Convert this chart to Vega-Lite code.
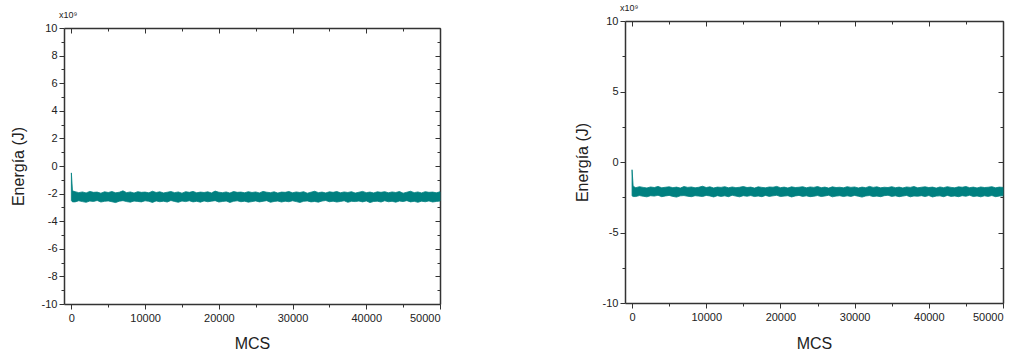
{
"$schema": "https://vega.github.io/schema/vega-lite/v6.json",
"padding": {"left": 10, "top": 4, "right": 0, "bottom": 0},
"config": {"view": {"stroke": null}, "font": "Liberation Sans",
 "axis": {"grid": false, "domainColor": "#333", "domainWidth": 1.5, "tickColor": "#333", "labelFont": "Liberation Sans", "labelFontSize": 11, "labelColor": "#222", "titleFont": "Liberation Sans", "titleFontSize": 16, "titleFontWeight": "normal", "titleColor": "#222"}},
"spacing": 131,
"datasets": {
"left": [
{"mcs":0,"hi":-0.5,"lo":-2.5},{"mcs":150,"hi":-1.8,"lo":-2.6},
{"mcs":500,"hi":-1.86,"lo":-2.60},{"mcs":1000,"hi":-1.93,"lo":-2.52},{"mcs":1500,"hi":-1.88,"lo":-2.58},{"mcs":2000,"hi":-1.95,"lo":-2.63},{"mcs":2500,"hi":-1.84,"lo":-2.54},{"mcs":3000,"hi":-1.91,"lo":-2.57},{"mcs":3500,"hi":-1.89,"lo":-2.50},{"mcs":4000,"hi":-1.97,"lo":-2.61},{"mcs":4500,"hi":-1.87,"lo":-2.56},{"mcs":5000,"hi":-1.92,"lo":-2.53},
{"mcs":5500,"hi":-1.85,"lo":-2.59},{"mcs":6000,"hi":-1.94,"lo":-2.65},{"mcs":6500,"hi":-1.90,"lo":-2.55},{"mcs":7000,"hi":-1.80,"lo":-2.51},{"mcs":7500,"hi":-1.93,"lo":-2.58},{"mcs":8000,"hi":-1.88,"lo":-2.62},{"mcs":8500,"hi":-1.96,"lo":-2.54},{"mcs":9000,"hi":-1.86,"lo":-2.57},{"mcs":9500,"hi":-1.91,"lo":-2.60},{"mcs":10000,"hi":-1.89,"lo":-2.52},
{"mcs":10500,"hi":-1.94,"lo":-2.56},{"mcs":11000,"hi":-1.83,"lo":-2.64},{"mcs":11500,"hi":-1.92,"lo":-2.53},{"mcs":12000,"hi":-1.87,"lo":-2.59},{"mcs":12500,"hi":-1.95,"lo":-2.55},{"mcs":13000,"hi":-1.90,"lo":-2.61},{"mcs":13500,"hi":-1.85,"lo":-2.50},{"mcs":14000,"hi":-1.93,"lo":-2.57},{"mcs":14500,"hi":-1.88,"lo":-2.63},{"mcs":15000,"hi":-1.97,"lo":-2.54},
{"mcs":15500,"hi":-1.86,"lo":-2.58},{"mcs":16000,"hi":-1.91,"lo":-2.52},{"mcs":16500,"hi":-1.84,"lo":-2.60},{"mcs":17000,"hi":-1.94,"lo":-2.56},{"mcs":17500,"hi":-1.89,"lo":-2.62},{"mcs":18000,"hi":-1.92,"lo":-2.53},{"mcs":18500,"hi":-1.87,"lo":-2.59},{"mcs":19000,"hi":-1.95,"lo":-2.55},{"mcs":19500,"hi":-1.82,"lo":-2.51},{"mcs":20000,"hi":-1.90,"lo":-2.61},
{"mcs":20500,"hi":-1.93,"lo":-2.57},{"mcs":21000,"hi":-1.88,"lo":-2.54},{"mcs":21500,"hi":-1.96,"lo":-2.64},{"mcs":22000,"hi":-1.85,"lo":-2.56},{"mcs":22500,"hi":-1.91,"lo":-2.52},{"mcs":23000,"hi":-1.89,"lo":-2.59},{"mcs":23500,"hi":-1.94,"lo":-2.55},{"mcs":24000,"hi":-1.86,"lo":-2.62},{"mcs":24500,"hi":-1.92,"lo":-2.58},{"mcs":25000,"hi":-1.88,"lo":-2.53},
{"mcs":25500,"hi":-1.95,"lo":-2.60},{"mcs":26000,"hi":-1.84,"lo":-2.56},{"mcs":26500,"hi":-1.90,"lo":-2.51},{"mcs":27000,"hi":-1.93,"lo":-2.63},{"mcs":27500,"hi":-1.87,"lo":-2.57},{"mcs":28000,"hi":-1.96,"lo":-2.54},{"mcs":28500,"hi":-1.89,"lo":-2.61},{"mcs":29000,"hi":-1.91,"lo":-2.55},{"mcs":29500,"hi":-1.85,"lo":-2.59},{"mcs":30000,"hi":-1.94,"lo":-2.52},
{"mcs":30500,"hi":-1.88,"lo":-2.58},{"mcs":31000,"hi":-1.92,"lo":-2.64},{"mcs":31500,"hi":-1.86,"lo":-2.56},{"mcs":32000,"hi":-1.97,"lo":-2.53},{"mcs":32500,"hi":-1.90,"lo":-2.60},{"mcs":33000,"hi":-1.83,"lo":-2.57},{"mcs":33500,"hi":-1.93,"lo":-2.62},{"mcs":34000,"hi":-1.89,"lo":-2.54},{"mcs":34500,"hi":-1.95,"lo":-2.50},{"mcs":35000,"hi":-1.87,"lo":-2.59},
{"mcs":35500,"hi":-1.91,"lo":-2.55},{"mcs":36000,"hi":-1.85,"lo":-2.61},{"mcs":36500,"hi":-1.94,"lo":-2.57},{"mcs":37000,"hi":-1.88,"lo":-2.52},{"mcs":37500,"hi":-1.92,"lo":-2.63},{"mcs":38000,"hi":-1.86,"lo":-2.56},{"mcs":38500,"hi":-1.96,"lo":-2.58},{"mcs":39000,"hi":-1.90,"lo":-2.54},{"mcs":39500,"hi":-1.84,"lo":-2.60},{"mcs":40000,"hi":-1.93,"lo":-2.53},
{"mcs":40500,"hi":-1.89,"lo":-2.65},{"mcs":41000,"hi":-1.95,"lo":-2.57},{"mcs":41500,"hi":-1.87,"lo":-2.55},{"mcs":42000,"hi":-1.91,"lo":-2.61},{"mcs":42500,"hi":-1.86,"lo":-2.52},{"mcs":43000,"hi":-1.94,"lo":-2.59},{"mcs":43500,"hi":-1.88,"lo":-2.56},{"mcs":44000,"hi":-1.92,"lo":-2.62},{"mcs":44500,"hi":-1.85,"lo":-2.54},{"mcs":45000,"hi":-1.97,"lo":-2.58},
{"mcs":45500,"hi":-1.90,"lo":-2.51},{"mcs":46000,"hi":-1.83,"lo":-2.60},{"mcs":46500,"hi":-1.93,"lo":-2.56},{"mcs":47000,"hi":-1.88,"lo":-2.63},{"mcs":47500,"hi":-1.95,"lo":-2.55},{"mcs":48000,"hi":-1.86,"lo":-2.59},{"mcs":48500,"hi":-1.91,"lo":-2.53},{"mcs":49000,"hi":-1.89,"lo":-2.61},{"mcs":49500,"hi":-1.94,"lo":-2.57},{"mcs":50000,"hi":-1.87,"lo":-2.54}
],
"right": [
{"mcs":0,"hi":-0.55,"lo":-2.4},{"mcs":150,"hi":-1.72,"lo":-2.45},
{"mcs":500,"hi":-1.82,"lo":-2.45},{"mcs":1000,"hi":-1.75,"lo":-2.38},{"mcs":1500,"hi":-1.80,"lo":-2.43},{"mcs":2000,"hi":-1.84,"lo":-2.47},{"mcs":2500,"hi":-1.77,"lo":-2.39},{"mcs":3000,"hi":-1.81,"lo":-2.42},{"mcs":3500,"hi":-1.73,"lo":-2.36},{"mcs":4000,"hi":-1.83,"lo":-2.46},{"mcs":4500,"hi":-1.79,"lo":-2.41},{"mcs":5000,"hi":-1.76,"lo":-2.37},
{"mcs":5500,"hi":-1.82,"lo":-2.44},{"mcs":6000,"hi":-1.78,"lo":-2.49},{"mcs":6500,"hi":-1.85,"lo":-2.40},{"mcs":7000,"hi":-1.74,"lo":-2.38},{"mcs":7500,"hi":-1.80,"lo":-2.43},{"mcs":8000,"hi":-1.77,"lo":-2.46},{"mcs":8500,"hi":-1.83,"lo":-2.39},{"mcs":9000,"hi":-1.79,"lo":-2.42},{"mcs":9500,"hi":-1.72,"lo":-2.45},{"mcs":10000,"hi":-1.81,"lo":-2.37},
{"mcs":10500,"hi":-1.76,"lo":-2.41},{"mcs":11000,"hi":-1.84,"lo":-2.48},{"mcs":11500,"hi":-1.78,"lo":-2.39},{"mcs":12000,"hi":-1.80,"lo":-2.44},{"mcs":12500,"hi":-1.75,"lo":-2.40},{"mcs":13000,"hi":-1.83,"lo":-2.46},{"mcs":13500,"hi":-1.77,"lo":-2.36},{"mcs":14000,"hi":-1.82,"lo":-2.42},{"mcs":14500,"hi":-1.79,"lo":-2.47},{"mcs":15000,"hi":-1.74,"lo":-2.39},
{"mcs":15500,"hi":-1.81,"lo":-2.43},{"mcs":16000,"hi":-1.78,"lo":-2.38},{"mcs":16500,"hi":-1.85,"lo":-2.45},{"mcs":17000,"hi":-1.76,"lo":-2.41},{"mcs":17500,"hi":-1.80,"lo":-2.46},{"mcs":18000,"hi":-1.83,"lo":-2.37},{"mcs":18500,"hi":-1.77,"lo":-2.44},{"mcs":19000,"hi":-1.79,"lo":-2.40},{"mcs":19500,"hi":-1.73,"lo":-2.36},{"mcs":20000,"hi":-1.82,"lo":-2.45},
{"mcs":20500,"hi":-1.78,"lo":-2.42},{"mcs":21000,"hi":-1.84,"lo":-2.39},{"mcs":21500,"hi":-1.76,"lo":-2.48},{"mcs":22000,"hi":-1.81,"lo":-2.41},{"mcs":22500,"hi":-1.79,"lo":-2.37},{"mcs":23000,"hi":-1.75,"lo":-2.44},{"mcs":23500,"hi":-1.83,"lo":-2.40},{"mcs":24000,"hi":-1.77,"lo":-2.46},{"mcs":24500,"hi":-1.80,"lo":-2.43},{"mcs":25000,"hi":-1.74,"lo":-2.38},
{"mcs":25500,"hi":-1.82,"lo":-2.45},{"mcs":26000,"hi":-1.78,"lo":-2.41},{"mcs":26500,"hi":-1.85,"lo":-2.36},{"mcs":27000,"hi":-1.76,"lo":-2.47},{"mcs":27500,"hi":-1.81,"lo":-2.42},{"mcs":28000,"hi":-1.79,"lo":-2.39},{"mcs":28500,"hi":-1.83,"lo":-2.45},{"mcs":29000,"hi":-1.75,"lo":-2.40},{"mcs":29500,"hi":-1.80,"lo":-2.44},{"mcs":30000,"hi":-1.77,"lo":-2.37},
{"mcs":30500,"hi":-1.84,"lo":-2.43},{"mcs":31000,"hi":-1.78,"lo":-2.49},{"mcs":31500,"hi":-1.82,"lo":-2.41},{"mcs":32000,"hi":-1.73,"lo":-2.38},{"mcs":32500,"hi":-1.80,"lo":-2.45},{"mcs":33000,"hi":-1.76,"lo":-2.42},{"mcs":33500,"hi":-1.83,"lo":-2.46},{"mcs":34000,"hi":-1.79,"lo":-2.39},{"mcs":34500,"hi":-1.81,"lo":-2.36},{"mcs":35000,"hi":-1.75,"lo":-2.44},
{"mcs":35500,"hi":-1.82,"lo":-2.40},{"mcs":36000,"hi":-1.78,"lo":-2.46},{"mcs":36500,"hi":-1.84,"lo":-2.42},{"mcs":37000,"hi":-1.77,"lo":-2.37},{"mcs":37500,"hi":-1.80,"lo":-2.47},{"mcs":38000,"hi":-1.74,"lo":-2.41},{"mcs":38500,"hi":-1.83,"lo":-2.43},{"mcs":39000,"hi":-1.79,"lo":-2.39},{"mcs":39500,"hi":-1.76,"lo":-2.45},{"mcs":40000,"hi":-1.81,"lo":-2.38},
{"mcs":40500,"hi":-1.78,"lo":-2.48},{"mcs":41000,"hi":-1.85,"lo":-2.42},{"mcs":41500,"hi":-1.77,"lo":-2.40},{"mcs":42000,"hi":-1.82,"lo":-2.46},{"mcs":42500,"hi":-1.75,"lo":-2.37},{"mcs":43000,"hi":-1.80,"lo":-2.44},{"mcs":43500,"hi":-1.83,"lo":-2.41},{"mcs":44000,"hi":-1.76,"lo":-2.46},{"mcs":44500,"hi":-1.79,"lo":-2.39},{"mcs":45000,"hi":-1.74,"lo":-2.43},
{"mcs":45500,"hi":-1.82,"lo":-2.36},{"mcs":46000,"hi":-1.78,"lo":-2.45},{"mcs":46500,"hi":-1.84,"lo":-2.41},{"mcs":47000,"hi":-1.77,"lo":-2.47},{"mcs":47500,"hi":-1.81,"lo":-2.40},{"mcs":48000,"hi":-1.79,"lo":-2.44},{"mcs":48500,"hi":-1.75,"lo":-2.38},{"mcs":49000,"hi":-1.83,"lo":-2.46},{"mcs":49500,"hi":-1.78,"lo":-2.42},{"mcs":50000,"hi":-1.80,"lo":-2.39}
]
},
"hconcat": [
{
 "vconcat": [
  {"width": 376, "height": 7, "data": {"values": [{}]}, "mark": {"type": "rule", "opacity": 0}, "encoding": {}},
  {
   "width": 376, "height": 276,
   "title": {"text": "x10⁹", "anchor": "start", "frame": "group", "fontSize": 9, "fontWeight": "normal", "font": "Liberation Sans", "color": "#222", "dx": -5, "offset": 2},
   "data": {"name": "left"},
   "layer": [
    {"mark": {"type": "area", "color": "#008080", "opacity": 1, "stroke": "#008080", "strokeWidth": 0.8},
     "encoding": {
      "x": {"field": "mcs", "type": "quantitative", "scale": {"domain": [-1000, 50000], "nice": false, "zero": false},
        "axis": {"orient": "bottom", "title": "MCS", "format": "d", "values": [0,5000,10000,15000,20000,25000,30000,35000,40000,45000,50000],
          "labelExpr": "datum.value % 10000 === 0 ? datum.label : ''", "tickSize": {"condition": {"test": "datum.value % 10000 !== 0", "value": 3}, "value": 5}, "labelPadding": 3, "titlePadding": 12}},
      "y": {"field": "hi", "type": "quantitative", "scale": {"domain": [-10, 10], "nice": false},
        "axis": {"orient": "left", "title": "Energía (J)", "values": [-10,-9,-8,-7,-6,-5,-4,-3,-2,-1,0,1,2,3,4,5,6,7,8,9,10],
          "labelExpr": "datum.value % 2 === 0 ? '' + datum.value : ''", "tickSize": {"condition": {"test": "datum.value % 2 !== 0", "value": 3}, "value": 5}, "labelPadding": 2, "titlePadding": 15}},
      "y2": {"field": "lo"}}},
    {"mark": {"type": "point", "opacity": 0},
     "encoding": {
      "x": {"field": "mcs", "type": "quantitative", "axis": {"orient": "top", "title": null, "labels": false, "values": [0,5000,10000,15000,20000,25000,30000,35000,40000,45000,50000], "tickSize": {"condition": {"test": "datum.value % 10000 !== 0", "value": -3}, "value": -5}}},
      "y": {"field": "hi", "type": "quantitative", "axis": {"orient": "right", "title": null, "labels": false, "values": [-10,-9,-8,-7,-6,-5,-4,-3,-2,-1,0,1,2,3,4,5,6,7,8,9,10], "tickSize": {"condition": {"test": "datum.value % 2 !== 0", "value": -3}, "value": -5}}}}}
   ],
   "resolve": {"axis": {"x": "independent", "y": "independent"}}
  }
 ],
 "spacing": 0,
 "bounds": "flush"
},
{
 "width": 378, "height": 282,
 "title": {"text": "x10⁹", "anchor": "start", "frame": "group", "fontSize": 9, "fontWeight": "normal", "font": "Liberation Sans", "color": "#222", "dx": -5, "offset": 2},
 "data": {"name": "right"},
 "layer": [
  {"mark": {"type": "area", "color": "#008080", "opacity": 1, "stroke": "#008080", "strokeWidth": 0.8},
   "encoding": {
    "x": {"field": "mcs", "type": "quantitative", "scale": {"domain": [-950, 50000], "nice": false, "zero": false},
      "axis": {"orient": "bottom", "title": "MCS", "format": "d", "values": [0,5000,10000,15000,20000,25000,30000,35000,40000,45000,50000],
        "labelExpr": "datum.value % 10000 === 0 ? datum.label : ''", "tickSize": {"condition": {"test": "datum.value % 10000 !== 0", "value": 3}, "value": 5}, "labelPadding": 3, "titlePadding": 13}},
    "y": {"field": "hi", "type": "quantitative", "scale": {"domain": [-10, 10], "nice": false},
      "axis": {"orient": "left", "title": "Energía (J)", "values": [-10,-7.5,-5,-2.5,0,2.5,5,7.5,10],
        "labelExpr": "datum.value % 5 === 0 ? '' + datum.value : ''", "tickSize": {"condition": {"test": "datum.value % 5 !== 0", "value": 3}, "value": 5}, "labelPadding": 2, "titlePadding": 12}},
    "y2": {"field": "lo"}}},
  {"mark": {"type": "point", "opacity": 0},
   "encoding": {
    "x": {"field": "mcs", "type": "quantitative", "axis": {"orient": "top", "title": null, "labels": false, "values": [0,5000,10000,15000,20000,25000,30000,35000,40000,45000,50000], "tickSize": {"condition": {"test": "datum.value % 10000 !== 0", "value": -3}, "value": -5}}},
    "y": {"field": "hi", "type": "quantitative", "axis": {"orient": "right", "title": null, "labels": false, "values": [-10,-7.5,-5,-2.5,0,2.5,5,7.5,10], "tickSize": {"condition": {"test": "datum.value % 5 !== 0", "value": -3}, "value": -5}}}}}
 ],
 "resolve": {"axis": {"x": "independent", "y": "independent"}}
}
]
}
